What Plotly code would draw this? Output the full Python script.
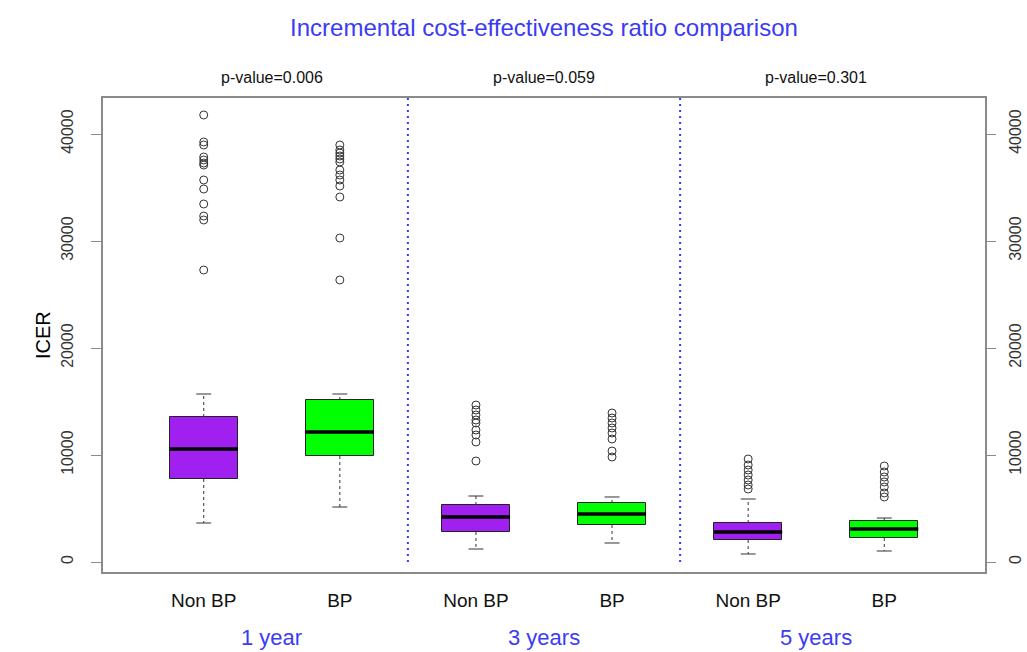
import plotly.graph_objects as go

# ICER summaries for each follow-up horizon and group (box statistics + outliers)
groups = ["Non BP", "BP", "Non BP", "BP", "Non BP", "BP"]
horizons = ["1 year", "3 years", "5 years"]
p_values = ["p-value=0.006", "p-value=0.059", "p-value=0.301"]

q1 = [7757, 9907, 2804, 3458, 2056, 2243]
median = [10561, 12150, 4206, 4486, 2804, 3084]
q3 = [13552, 15140, 5327, 5514, 3645, 3832]
lower_whisker = [3645, 5140, 1215, 1776, 748, 1028]
upper_whisker = [15701, 15701, 6168, 6075, 5888, 4112]

outliers = [
    [41777, 39253, 38973, 37851, 37571, 37290, 37103, 35701, 34860, 33458, 32337, 31963, 27290],
    [38973, 38505, 38225, 37945, 37664, 37384, 36636, 36169, 35701, 35140, 34112, 30281, 26356],
    [14673, 14206, 13739, 13271, 12991, 12337, 11869, 11215, 9439],
    [13926, 13458, 12991, 12524, 12056, 11495, 10374, 9813],
    [9626, 9065, 8598, 8131, 7664, 7196, 6823],
    [8972, 8411, 7944, 7477, 7010, 6449, 6075],
]

tick_vals = [0, 10000, 20000, 30000, 40000]
tick_text = ["0", "10000", "20000", "30000", "40000"]

fill_colors = ["#A020F0", "#00FF00"] * 3
BLUE = "#3B3BF5"
BOX_W = 0.5
CAP_W = 0.11

positions = list(range(1, len(groups) + 1))
y_range = [-935, 43365]
x_range = [0.26, 6.74]

fig = go.Figure()

# boxes (inter-quartile range)
fig.add_trace(go.Bar(
    x=positions,
    y=[b - a for a, b in zip(q1, q3)],
    base=q1,
    width=BOX_W,
    marker=dict(color=fill_colors, line=dict(color="#222222", width=1)),
    hoverinfo="skip",
    showlegend=False,
))

# dashed whiskers
wx, wy = [], []
for p, lo, a, b, hi in zip(positions, lower_whisker, q1, q3, upper_whisker):
    wx += [p, p, None, p, p, None]
    wy += [b, hi, None, a, lo, None]
fig.add_trace(go.Scatter(x=wx, y=wy, mode="lines",
                         line=dict(color="#333333", width=1, dash="3px,3px"),
                         hoverinfo="skip", showlegend=False))

# whisker caps
cx, cy = [], []
for p, lo, hi in zip(positions, lower_whisker, upper_whisker):
    cx += [p - CAP_W / 2, p + CAP_W / 2, None, p - CAP_W / 2, p + CAP_W / 2, None]
    cy += [hi, hi, None, lo, lo, None]
fig.add_trace(go.Scatter(x=cx, y=cy, mode="lines",
                         line=dict(color="#333333", width=1),
                         hoverinfo="skip", showlegend=False))

# medians
mx, my = [], []
for p, m in zip(positions, median):
    mx += [p - BOX_W / 2, p + BOX_W / 2, None]
    my += [m, m, None]
fig.add_trace(go.Scatter(x=mx, y=my, mode="lines",
                         line=dict(color="#000000", width=3.5),
                         hoverinfo="skip", showlegend=False))

# outliers (also anchors the right-hand axis)
ox, oy = [], []
for p, vals in zip(positions, outliers):
    ox += [p] * len(vals)
    oy += vals
fig.add_trace(go.Scatter(x=ox, y=oy, mode="markers", yaxis="y2",
                         marker=dict(symbol="circle-open", size=8,
                                     color="#333333", line=dict(width=1)),
                         hoverinfo="skip", showlegend=False))

# dotted separators between follow-up horizons
for k in range(1, len(horizons)):
    xs = 2 * k + 0.5
    fig.add_trace(go.Scatter(x=[xs, xs], y=[0, y_range[1]], mode="lines",
                             line=dict(color=BLUE, width=2, dash="2px,4px"),
                             hoverinfo="skip", showlegend=False))

PLOT_TOP, PLOT_BOTTOM, H = 98, 572, 652


def paper_y(px):
    return (PLOT_BOTTOM - px) / (PLOT_BOTTOM - PLOT_TOP)


annotations = []
for i, (h, pv) in enumerate(zip(horizons, p_values)):
    xc = 2 * i + 1.5
    annotations.append(dict(x=xc, xref="x", y=paper_y(637), yref="paper", text=h,
                            yanchor="middle", showarrow=False,
                            font=dict(size=22, color=BLUE)))
    annotations.append(dict(x=xc, xref="x", y=paper_y(77), yref="paper", text=pv,
                            yanchor="middle", showarrow=False,
                            font=dict(size=16, color="#111111")))

annotations.append(dict(x=(30 - 103) / 882, xref="paper", y=0.5, yref="paper",
                        text="ICER", textangle=-90, showarrow=False,
                        font=dict(size=20, color="#000000")))

axis_font = dict(size=16, color="#333333")

fig.update_layout(
    width=1027, height=652,
    margin=dict(l=103, r=42, t=98, b=80, autoexpand=False),
    paper_bgcolor="white", plot_bgcolor="white",
    font=dict(family="Liberation Sans, Arial, sans-serif"),
    title=dict(text="Incremental cost-effectiveness ratio comparison",
               x=0.5, xanchor="center", xref="paper",
               y=1 - 28 / 652, yanchor="middle", yref="container",
               font=dict(size=24, color=BLUE)),
    xaxis=dict(range=x_range, tickvals=positions, ticktext=groups,
               showgrid=False, zeroline=False, ticks="", automargin=False,
               showline=True, mirror=True, linecolor="#8a8a8a", linewidth=1.5,
               tickfont=dict(size=19, color="#111111"), ticklabelstandoff=10),
    yaxis=dict(range=y_range, tickvals=tick_vals, ticktext=tick_text,
               showgrid=False, zeroline=False, automargin=False,
               ticks="outside", ticklen=10, tickcolor="#8a8a8a", tickangle=-90,
               showline=True, mirror=True, linecolor="#8a8a8a", linewidth=1.5,
               tickfont=axis_font, ticklabelstandoff=12),
    yaxis2=dict(range=y_range, tickvals=tick_vals, ticktext=tick_text,
                overlaying="y", side="right", automargin=False,
                matches="y", showgrid=False, zeroline=False,
                ticks="outside", ticklen=10, tickcolor="#8a8a8a", tickangle=-90,
                showline=False, tickfont=axis_font, ticklabelstandoff=6),
    annotations=annotations,
    bargap=0,
)

fig.write_html("out.html")
